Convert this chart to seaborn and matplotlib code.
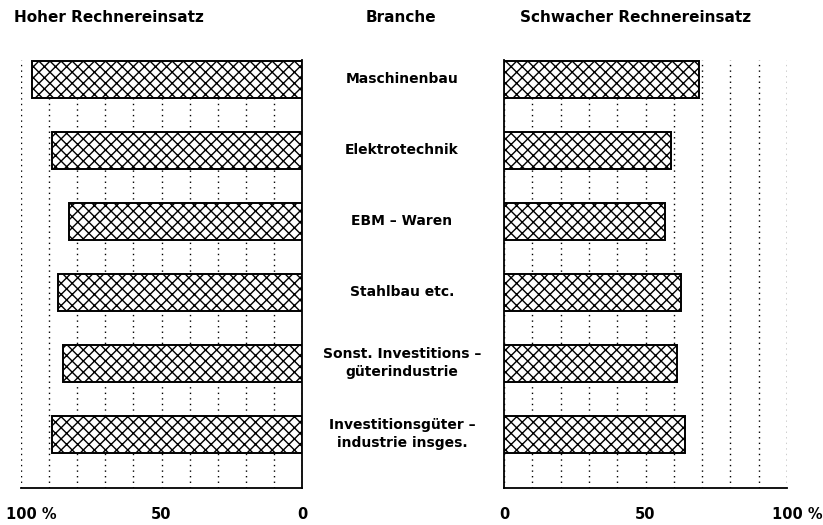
import pandas as pd
import matplotlib
matplotlib.use('Agg')
from matplotlib import pyplot as plt
from matplotlib import transforms
import seaborn as sns

branchen = ['Maschinenbau', 'Elektrotechnik', 'EBM – Waren', 'Stahlbau etc.',
            'Sonst. Investitions –\ngüterindustrie',
            'Investitionsgüter –\nindustrie insges.']
hoher = [96, 89, 83, 87, 85, 89]
schwacher = [69, 59, 57, 62.5, 61, 64]
grid_ticks = list(range(0, 101, 10))

df = pd.DataFrame({'Branche': branchen, 'Hoher': hoher, 'Schwacher': schwacher})

sns.set_style('white')
plt.rcParams['font.family'] = ['DejaVu Sans']
plt.rcParams['hatch.linewidth'] = 1.0
plt.rcParams['hatch.color'] = 'black'
plt.rcParams['text.color'] = 'black'
plt.rcParams['xtick.color'] = 'black'
plt.rcParams['xtick.labelcolor'] = 'black'

fig = plt.figure(figsize=(8.23, 5.25), dpi=100)
ax1 = fig.add_axes([21 / 823, 37 / 525, 281 / 823, 428 / 525])
ax2 = fig.add_axes([504 / 823, 37 / 525, 283 / 823, 428 / 525])

for ax, col in [(ax1, 'Hoher'), (ax2, 'Schwacher')]:
    sns.barplot(data=df, x=col, y='Branche', orient='h', ax=ax, color='white',
                width=0.52, zorder=3)
    for p in ax.patches:
        p.set_facecolor('white')
        p.set_edgecolor('black')
        p.set_linewidth(1.4)
        p.set_hatch('xxx')
    ax.set_ylim(5.76, -0.27)
    ax.set_xlabel('')
    ax.set_ylabel('')
    ax.set_yticks([])
    ax.set_xticks(grid_ticks)
    ax.grid(axis='x', linestyle=(0, (1, 3)), color='black', linewidth=1.0)
    ax.set_axisbelow(True)
    ax.tick_params(axis='x', direction='out', length=6, width=1, color='black',
                   pad=8, labelsize=10.5)
    for s in ax.spines.values():
        s.set_color('black')
        s.set_linewidth(1.3)
    ax.spines['top'].set_visible(False)

ax1.set_xlim(100, 0)
ax2.set_xlim(0, 100)
ax1.spines['left'].set_visible(False)
ax2.spines['right'].set_visible(False)

lab1 = ['100 %' if t == 100 else (str(t) if t in (0, 50) else '') for t in grid_ticks]
ax1.set_xticklabels(lab1, fontweight='bold')
ax2.set_xticklabels(lab1, fontweight='bold')
shift = transforms.ScaledTranslation(-15 / 100, 0, fig.dpi_scale_trans)
for ax in (ax1, ax2):
    for t, lbl in zip(grid_ticks, ax.get_xticklabels()):
        if t == 100:
            lbl.set_horizontalalignment('left')
            lbl.set_transform(lbl.get_transform() + shift)

# Branchen in der Mitte
tr = transforms.blended_transform_factory(fig.transFigure, ax1.transData)
for i, b in enumerate(branchen):
    fig.text(402 / 823, i, b, transform=tr, ha='center', va='center',
             fontweight='bold', fontsize=10, linespacing=1.35)

fig.text(14 / 823, 1 - 17 / 525, 'Hoher Rechnereinsatz', ha='left', va='center',
         fontweight='bold', fontsize=11)
fig.text(401 / 823, 1 - 17 / 525, 'Branche', ha='center', va='center',
         fontweight='bold', fontsize=11)
fig.text(520 / 823, 1 - 17 / 525, 'Schwacher Rechnereinsatz', ha='left', va='center',
         fontweight='bold', fontsize=11)

fig.savefig('out.png', dpi=100)
